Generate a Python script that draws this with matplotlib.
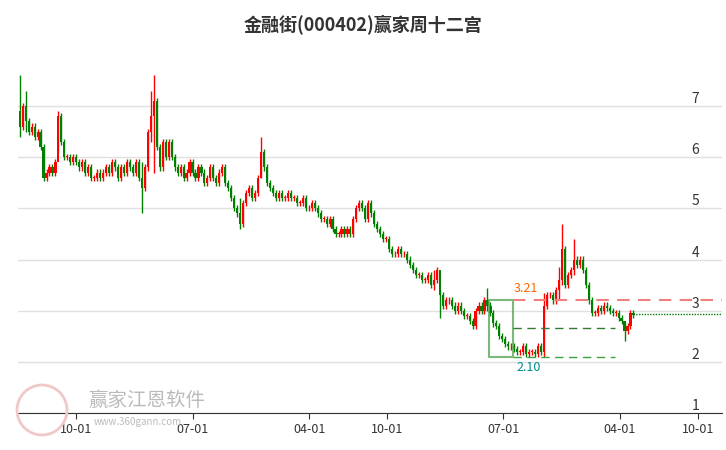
import matplotlib
matplotlib.use("Agg")
import matplotlib.pyplot as plt
import matplotlib.dates as mdates
from matplotlib.patches import Ellipse
import datetime as dt

plt.rcParams['font.family'] = ['Noto Sans CJK SC', 'DejaVu Sans']

start = dt.date(2019, 5, 22)
closes = [6.6,7.0,6.7,6.5,6.6,6.4,6.5,6.2,5.6,5.7,
          5.8,5.7,5.9,6.8,6.3,6.0,6.0,5.9,6.0,5.9,
          5.8,5.9,5.7,5.8,5.6,5.6,5.7,5.6,5.7,5.8,
          5.7,5.9,5.8,5.6,5.8,5.7,5.9,5.8,5.7,5.9,
          5.6,5.4,5.8,6.5,6.8,7.1,6.2,5.8,6.3,6.0,
          6.3,6.0,5.8,5.7,5.8,5.6,5.7,5.9,5.7,5.6,
          5.8,5.7,5.5,5.6,5.8,5.6,5.5,5.7,5.8,5.5,
          5.4,5.2,5.0,4.9,4.7,5.1,5.3,5.4,5.2,5.3,
          5.6,6.1,5.8,5.5,5.4,5.3,5.2,5.3,5.2,5.2,
          5.3,5.2,5.2,5.1,5.1,5.2,5.0,5.0,5.1,5.0,
          4.9,4.8,4.8,4.7,4.8,4.6,4.5,4.5,4.6,4.5,
          4.6,4.5,4.8,5.0,5.1,5.0,4.8,5.1,4.9,4.7,
          4.6,4.5,4.4,4.4,4.2,4.1,4.1,4.2,4.1,4.1,
          4.0,3.9,3.8,3.7,3.7,3.6,3.6,3.7,3.5,3.6,
          3.8,3.3,3.1,3.2,3.2,3.1,3.0,3.1,3.0,2.9,
          2.9,2.8,2.7,3.0,3.1,3.0,3.2,3.1,2.95,2.75,
          2.7,2.5,2.45,2.35,2.3,2.3,2.25,2.2,2.2,2.3,
          2.15,2.2,2.2,2.15,2.3,2.2,3.1,3.3,3.3,3.2,
          3.4,3.6,4.2,3.5,3.7,3.8,4.0,3.9,4.0,3.8,
          3.5,3.2,2.95,2.95,3.05,3.0,3.1,3.05,3.0,2.95,
          2.95,2.85,2.8,2.6,2.7,2.95,2.92]
first_open = 6.9
spike_idx = [0, 2, 13, 41, 44, 45, 74, 81, 139, 141, 157, 176, 181, 182, 186, 203]
spike_high = [7.6, 7.3, 6.9, 5.9, 7.3, 7.6, 5.2, 6.4, 3.8, 3.4, 3.45, 3.35, 3.85, 4.7, 4.4, 2.75]
spike_low = [6.4, 6.5, 6.1, 4.9, 6.3, 5.7, 4.6, 5.6, 3.4, 2.85, 3.0, 2.1, 3.2, 3.5, 3.7, 2.4]
last_price = 2.93
hi_val, lo_val, mid_val = 3.21, 2.10, 2.66
xtick_dates = [dt.date(2019,10,1), dt.date(2020,7,1), dt.date(2021,4,1), dt.date(2021,10,1),
               dt.date(2022,7,1), dt.date(2023,4,1), dt.date(2023,10,1)]
xtick_labels = ['10-01','07-01','04-01','10-01','07-01','04-01','10-01']
yticks = [1,2,3,4,5,6,7]

fig = plt.figure(figsize=(7.26,4.5), dpi=100)
ax = fig.add_axes([18/726, 37/450, 704/726, 353/450])
dates = [mdates.date2num(start + dt.timedelta(days=7*i)) for i in range(len(closes))]
opens = [first_open] + closes[:-1]
for i,(d,o,c) in enumerate(zip(dates,opens,closes)):
    col = '#ff0000' if c >= o else '#008000'
    hi = max(o,c)+0.06; lo = min(o,c)-0.06
    if i in spike_idx:
        k = spike_idx.index(i); hi = spike_high[k]; lo = spike_low[k]
    ax.vlines(d, lo, hi, color=col, lw=1)
    h = abs(c-o) if abs(c-o)>0.01 else 0.015
    ax.bar(d, h, bottom=min(o,c), width=5, color=col, lw=0)

x0, x1 = mdates.date2num(dt.date(2022,5,28)), mdates.date2num(dt.date(2022,7,25))
x2 = mdates.date2num(dt.date(2023,3,20))
xend = mdates.date2num(dt.date(2023,11,27))
ax.plot([x0,x1,x1,x0,x0],[hi_val,hi_val,lo_val,lo_val,hi_val], color='#5aa85a', lw=1.5, alpha=0.8)
ax.plot([x1,xend],[hi_val,hi_val], color='#f08080', lw=1.5, ls=(0,(6,4)))
ax.plot([x1,x2],[mid_val,mid_val], color='#2e7d32', lw=1, ls=(0,(6,4)))
ax.plot([x1,x2],[lo_val,lo_val], color='#3aa33a', lw=1, ls=(0,(6,4)))
ax.plot([dates[-1], xend],[last_price,last_price], color='#008000', lw=1, ls=(0,(1,1)))
ax.text(x1, hi_val+0.1, '3.21', color='#ff6600', fontsize=9, ha='left', va='bottom')
ax.text(x1+8, lo_val-0.08, '2.10', color='#008b8b', fontsize=9, ha='left', va='top')

ax.set_xlim(mdates.date2num(dt.date(2019,5,18)), xend)
ax.set_ylim(1.0, 7.9)
ax.set_yticks(yticks)
ax.yaxis.grid(True, color='#e0e0e0', lw=1)
ax.set_axisbelow(True)
ax.tick_params(axis='y', length=0, labelsize=10, labelcolor='#333333', pad=-22)
ax.yaxis.tick_right()
for lbl in ax.get_yticklabels():
    lbl.set_verticalalignment('bottom')
ax.set_xticks([mdates.date2num(d) for d in xtick_dates])
ax.set_xticklabels(xtick_labels, fontsize=9, color='#333333')
ax.tick_params(axis='x', length=4, color='#333333')
for s in ['top','right','left']:
    ax.spines[s].set_visible(False)
ax.spines['bottom'].set_color('#333333')

fig.text(0.5, 0.945, '金融街(000402)赢家周十二宫', ha='center', va='center', fontsize=13, fontweight='bold', color='#333333')
fig.text(88/726, 1-400/450, '赢家江恩软件', fontsize=14, color='#bbbbbb', va='center')
fig.text(94/726, 1-422/450, 'www.360gann.com', fontsize=7, color='#bbbbbb', va='center')
circ = Ellipse((42/726, 1-410/450), 50/726, 50/450, transform=fig.transFigure, fill=False, ec='#f0c8c8', lw=2)
fig.add_artist(circ)
fig.savefig('out.png', dpi=100)
